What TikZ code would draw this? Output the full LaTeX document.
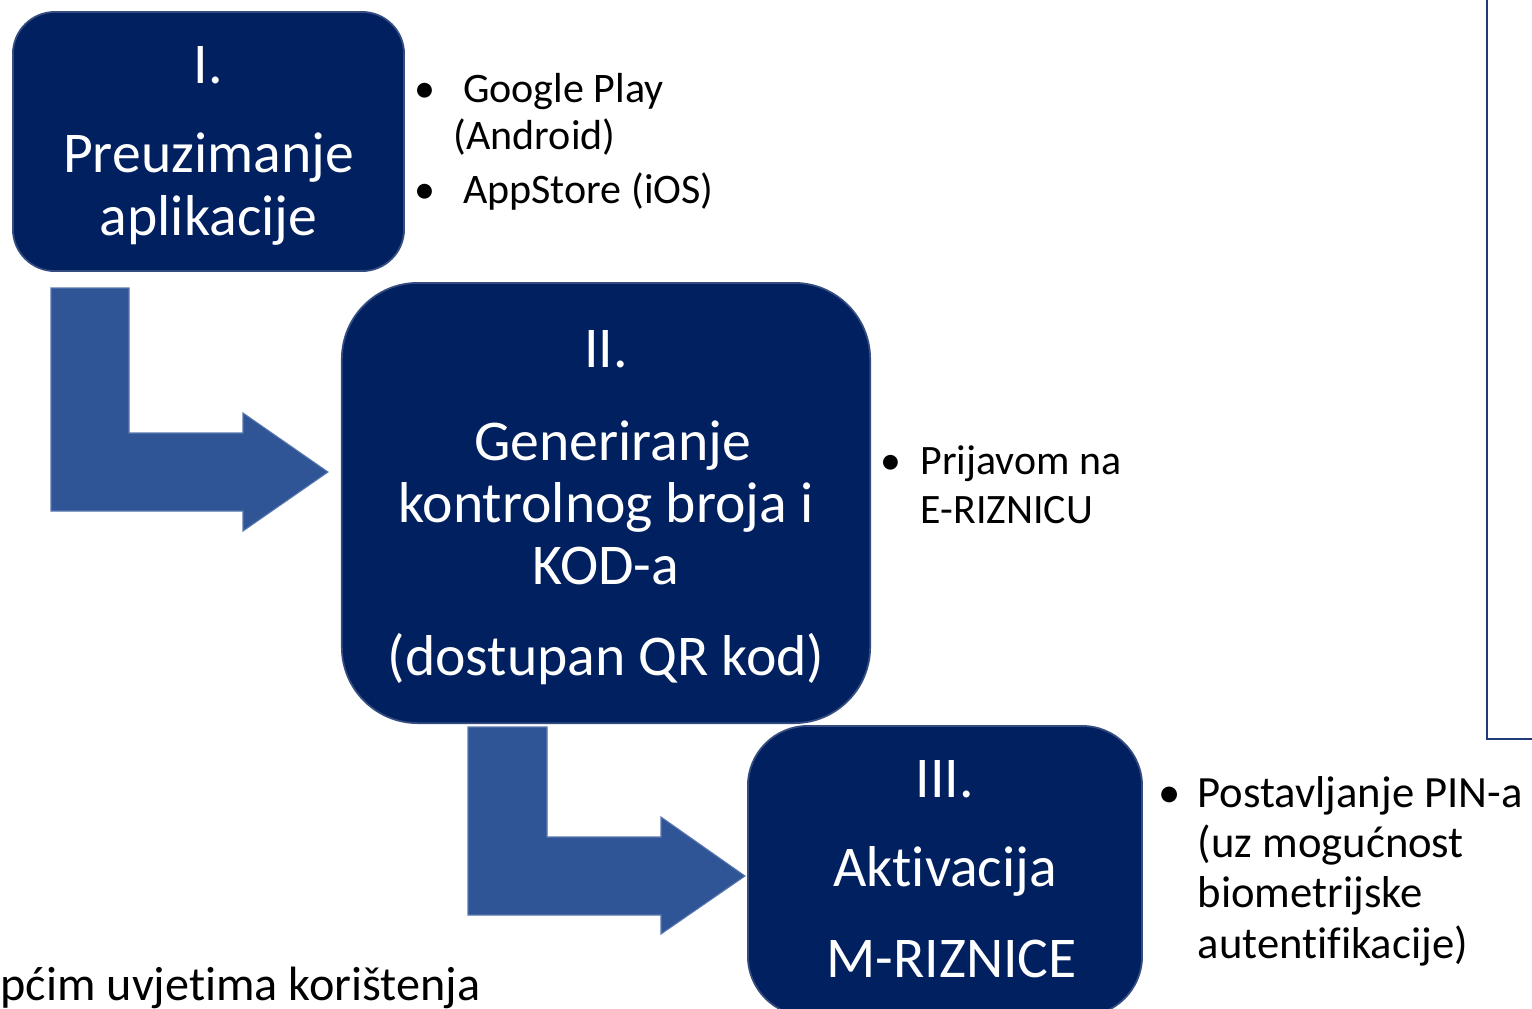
\documentclass[tikz,border=0pt]{standalone}
\usepackage{fontspec}
\setmainfont{Carlito}[Ligatures=NoCommon]
\usepackage{tikz}
\definecolor{navy}{RGB}{0,32,96}
\definecolor{navyedge}{RGB}{52,76,128}
\definecolor{stepblue}{RGB}{47,85,151}
\definecolor{stepedge}{RGB}{90,120,175}
\definecolor{frameblue}{RGB}{32,58,120}

\begin{document}
\begin{tikzpicture}[x=0.01cm, y=-0.01cm,
    stage/.style={rectangle, fill=navy, draw=navyedge, line width=0.5pt, inner sep=0pt},
    stagetext/.style={text=white, align=center, anchor=base, inner sep=0pt, font=\fontsize{16.4}{17.64}\selectfont},
    bendarrow/.style={fill=stepblue, draw=stepedge, line width=0.3pt},
    note/.style={anchor=base west, align=left, inner sep=0pt}]
        \useasboundingbox (0,0) rectangle (1532,1008);
        % frame of the panel on the right
        \draw[frameblue, line width=0.7pt] (1487,-5) -- (1487,739) -- (1540,739);
        % bent arrows
        \path[bendarrow] (51,288) -- (129,288) -- (129,433) -- (243,433) -- (243,413) -- (328,472) -- (243,531) -- (243,511) -- (51,511) -- cycle;
        \path[bendarrow] (468,727) -- (547,727) -- (547,837) -- (661,837) -- (661,817) -- (745,876) -- (661,934) -- (661,915) -- (468,915) -- cycle;
        % steps
        \node[stage, minimum width=3.91cm, minimum height=2.59cm, rounded corners=0.42cm] (prez) at (208.5,141.5) {};
        \node[stage, minimum width=5.28cm, minimum height=4.40cm, rounded corners=0.76cm] (gen) at (606,503) {};
        \node[stage, minimum width=3.94cm, minimum height=2.90cm, rounded corners=0.6cm] (akt) at (945,871) {};
        % text is placed by the baseline of its last line
        \node[stagetext] (prez-no) at (208.5,83) {I.};
        \node[stagetext] (prez-txt) at (208.5,235) {Preuzimanje\\aplikacije};
        \node[stagetext] (gen-no) at (606,367) {II.};
        \node[stagetext] (gen-txt) at (606,675) {\ Generiranje\\kontrolnog broja i\\KOD-a\\[0.28cm](dostupan QR kod)};
        \node[stagetext] (akt-no) at (945,797) {III.};
        \node[stagetext] (akt-txt) at (945,977) {Aktivacija\\[0.28cm]\ M-RIZNICE};
        % notes
        \node[note, font=\fontsize{11.95}{13.37}\selectfont] (stores) at (453,203) {\llap{•\hspace{0.185cm}}\ Google Play\\(Android)\\[0.06cm]\llap{•\hspace{0.185cm}}\ AppStore (iOS)};
        \node[note, font=\fontsize{11.9}{13.66}\selectfont] (login) at (920,523) {\llap{•\hspace{0.19cm}}Prijavom na\\E-RIZNICU};
        \node[note, font=\fontsize{12.7}{14.23}\selectfont] (pin) at (1197,958) {\llap{•\hspace{0.17cm}}Postavljanje PIN-a\\(uz mogućnost\\biometrijske\\autentifikacije)};
        \node[note, font=\fontsize{13.7}{16}\selectfont] (terms) at (0,1000) {pćim uvjetima korištenja};
\end{tikzpicture}
\end{document}
